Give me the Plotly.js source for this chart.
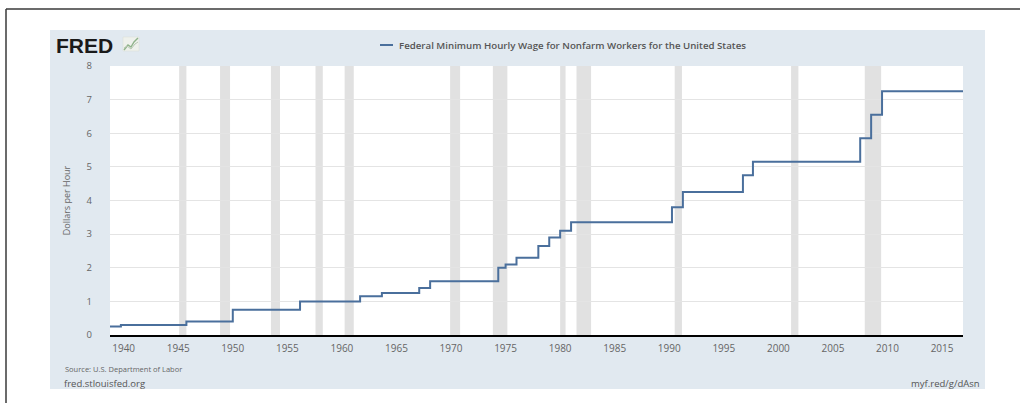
<!DOCTYPE html>
<html>
<head>
<meta charset="utf-8">
<script src="https://cdn.plot.ly/plotly-3.0.1.min.js"></script>
<style>
  html, body { margin: 0; padding: 0; background: #ffffff; }
  #chart { width: 1023px; height: 403px; }
</style>
</head>
<body>
<div id="chart"></div>
<script>
// ---- Data ----
const seriesName = 'Federal Minimum Hourly Wage for Nonfarm Workers for the United States';
const wageDates = ['1938-10-01','1939-10-01','1945-10-01','1950-01-01','1956-03-01','1961-09-01',
  '1963-09-01','1967-02-01','1968-02-01','1974-05-01','1975-01-01','1976-01-01','1978-01-01',
  '1979-01-01','1980-01-01','1981-01-01','1990-04-01','1991-04-01','1996-10-01','1997-09-01',
  '2007-07-01','2008-07-01','2009-07-01','2016-12-01'];
const wageValues = [0.25,0.30,0.40,0.75,1.00,1.15,1.25,1.40,1.60,2.00,2.10,2.30,2.65,
  2.90,3.10,3.35,3.80,4.25,4.75,5.15,5.85,6.55,7.25,7.25];
const recessionStarts = ['1945-02-01','1948-11-01','1953-07-01','1957-08-01','1960-04-01',
  '1969-12-01','1973-11-01','1980-01-01','1981-07-01','1990-07-01','2001-03-01','2007-12-01'];
const recessionEnds = ['1945-10-01','1949-10-01','1954-05-01','1958-04-01','1961-02-01',
  '1970-11-01','1975-03-01','1980-07-01','1982-11-01','1991-03-01','2001-11-01','2009-06-01'];
const xTickVals = ['1940','1945','1950','1955','1960','1965','1970','1975','1980','1985',
  '1990','1995','2000','2005','2010','2015'];
const yTickVals = [0,1,2,3,4,5,6,7,8];
const yAxisTitle = 'Dollars per Hour';
const sourceText = 'Source: U.S. Department of Labor';
const siteText = 'fred.stlouisfed.org';
const linkText = 'myf.red/g/dAsn';
const logoText = 'FRED';

// ---- Layout helpers (pixel -> paper) ----
const W = 1023, H = 403;
const L = 110, R = 963, T = 66, B = 335;
const px = p => (p - L) / (R - L);
const py = p => (B - p) / (B - T);

const shapes = [];
// outer page border (top + left)
shapes.push({type:'line', xref:'paper', yref:'paper', x0:px(6), x1:px(1020), y0:py(9), y1:py(9),
  line:{color:'#3a3a3a', width:1.5}, layer:'below'});
shapes.push({type:'line', xref:'paper', yref:'paper', x0:px(6), x1:px(6), y0:py(9), y1:py(403),
  line:{color:'#3a3a3a', width:1.5}, layer:'below'});
// FRED panel background
shapes.push({type:'rect', xref:'paper', yref:'paper', x0:px(50), x1:px(985), y0:py(30), y1:py(389),
  fillcolor:'#e1e9f0', line:{width:0}, layer:'below'});
// white plotting area
shapes.push({type:'rect', xref:'paper', yref:'paper', x0:0, x1:1, y0:0, y1:1,
  fillcolor:'#ffffff', line:{width:0}, layer:'below'});
// recession shading
for (let i = 0; i < recessionStarts.length; i++) {
  shapes.push({type:'rect', xref:'x', yref:'paper', x0:recessionStarts[i], x1:recessionEnds[i],
    y0:0, y1:1, fillcolor:'#e1e1e1', line:{width:0}, layer:'below'});
}
// legend line sample
shapes.push({type:'line', xref:'paper', yref:'paper', x0:px(380), x1:px(393), y0:py(45), y1:py(45),
  line:{color:'#4a6f9c', width:2}});
// small logo icon
shapes.push({type:'rect', xref:'paper', yref:'paper', x0:px(123), x1:px(139), y0:py(51), y1:py(37),
  fillcolor:'#eef1ec', line:{color:'#d8ddd6', width:0.5}});
shapes.push({type:'path', xref:'paper', yref:'paper',
  path:`M ${px(124)} ${py(50)} L ${px(128)} ${py(45)} L ${px(131)} ${py(47)} L ${px(134)} ${py(42)} L ${px(138)} ${py(38)}`,
  line:{color:'#8fb38a', width:1.4}});
shapes.push({type:'path', xref:'paper', yref:'paper',
  path:`M ${px(124)} ${py(48)} L ${px(127)} ${py(46)} L ${px(131)} ${py(49)} L ${px(135)} ${py(44)} L ${px(138)} ${py(42)}`,
  line:{color:'#b7c7b2', width:1}});

const annotations = [
  {text:logoText, xref:'paper', yref:'paper', x:px(54), y:py(45), xanchor:'left', yanchor:'middle',
    showarrow:false, font:{family:'Liberation Sans', size:21, color:'#1a1a1a', weight:900}},
  {text:seriesName, xref:'paper', yref:'paper', x:px(397), y:py(45), xanchor:'left', yanchor:'middle',
    showarrow:false, font:{family:'Open Sans', size:9.7, color:'#555555', weight:600}},
  {text:sourceText, xref:'paper', yref:'paper', x:px(63), y:py(369), xanchor:'left', yanchor:'middle',
    showarrow:false, font:{family:'Open Sans', size:7.5, color:'#666666'}},
  {text:siteText, xref:'paper', yref:'paper', x:px(62), y:py(383), xanchor:'left', yanchor:'middle',
    showarrow:false, font:{family:'Open Sans', size:9.5, color:'#555555'}},
  {text:linkText, xref:'paper', yref:'paper', x:px(982), y:py(383), xanchor:'right', yanchor:'middle',
    showarrow:false, font:{family:'Open Sans', size:9.5, color:'#555555'}}
];

const trace = {
  type:'scatter', mode:'lines', name:seriesName,
  x:wageDates, y:wageValues,
  line:{shape:'hv', color:'#4a6f9c', width:2},
  hoverinfo:'x+y'
};

const layout = {
  width:W, height:H,
  margin:{l:L, r:W-R, t:T, b:H-B, pad:0},
  paper_bgcolor:'#ffffff', plot_bgcolor:'#ffffff',
  showlegend:false,
  font:{family:'Open Sans', color:'#666666'},
  xaxis:{
    type:'date', range:['1938-10-01','2016-12-01'],
    tickmode:'array', tickvals:xTickVals, ticktext:xTickVals,
    showgrid:false, zeroline:false,
    showline:true, linecolor:'#000000', linewidth:2,
    ticks:'outside', ticklen:0, tickcolor:'#cccccc',
    tickfont:{family:'Open Sans', size:10, color:'#666666'},
    ticklabelstandoff:3,
    fixedrange:true
  },
  yaxis:{
    range:[0,8], tickmode:'array', tickvals:yTickVals,
    showgrid:true, gridcolor:'#e4e4e4', gridwidth:1,
    zeroline:false, showline:false, ticks:'',
    tickfont:{family:'Open Sans', size:9.5, color:'#666666'},
    ticklabelstandoff:17,
    title:{text:yAxisTitle, font:{family:'Open Sans', size:9, color:'#666666'}, standoff:14},
    fixedrange:true
  },
  shapes:shapes,
  annotations:annotations
};

Plotly.newPlot('chart', [trace], layout, {displayModeBar:false, staticPlot:true});
</script>
</body>
</html>
